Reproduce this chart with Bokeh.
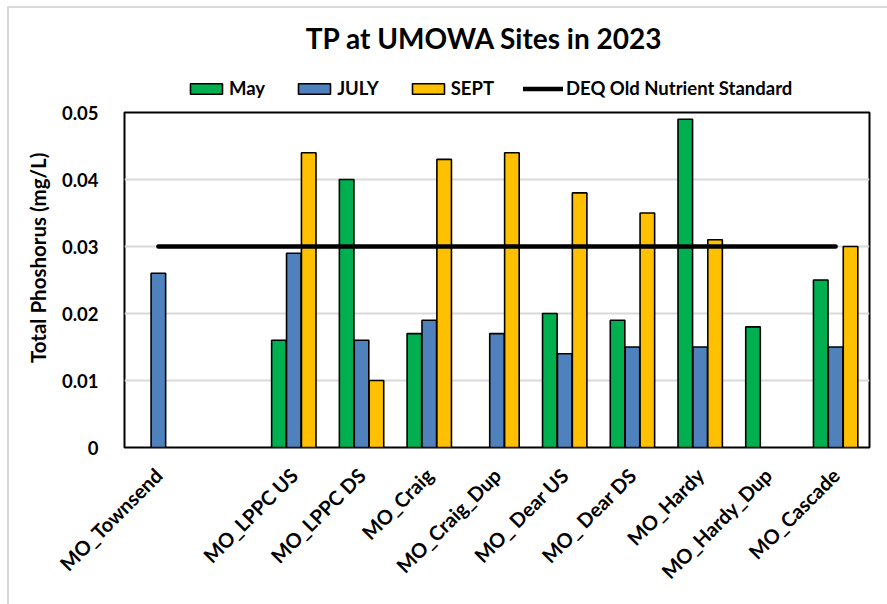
import numpy as np
from bokeh.plotting import figure
from bokeh.layouts import column
from bokeh.models import (ColumnDataSource, FactorRange, Range1d, FixedTicker,
                          NumeralTickFormatter, Legend, LegendItem, Label)
from bokeh.transform import dodge
from bokeh.embed import file_html
from bokeh.resources import INLINE

# ---- data ----
sites = ["MO_Townsend", " ", "MO_LPPC US", "MO_LPPC DS", "MO_Craig", "MO_Craig_Dup",
         "MO_ Dear US", "MO_ Dear DS", "MO_Hardy", "MO_Hardy_Dup", "MO_Cascade"]
may = [np.nan, np.nan, 0.016, 0.040, 0.017, np.nan, 0.020, 0.019, 0.049, 0.018, 0.025]
july = [0.026, np.nan, 0.029, 0.016, 0.019, 0.017, 0.014, 0.015, 0.015, np.nan, 0.015]
sept = [np.nan, np.nan, 0.044, 0.010, 0.043, 0.044, 0.038, 0.035, 0.031, np.nan, 0.030]
standard = [0.03] * len(sites)
y_ticks = [0, 0.01, 0.02, 0.03, 0.04, 0.05]

title_text = "TP at UMOWA Sites in 2023"
y_label = "Total Phoshorus (mg/L)"
line_name = "DEQ Old Nutrient Standard"
series_names = ["May", "JULY", "SEPT"]
series_cols = ["may", "july", "sept"]
series_colors = ["#00B050", "#4F81BD", "#FFC000"]

src = ColumnDataSource(dict(site=sites, may=np.array(may), july=np.array(july),
                            sept=np.array(sept), std=standard))

FONT = "Lato"
W = 878
TOP_H = 92
MAIN_H = 504

# ---- header figure: title + legend (its frame is aligned with the main frame) ----
top = figure(width=W, height=TOP_H, x_range=Range1d(0, 1), y_range=Range1d(0, 1),
             x_axis_type=None, y_axis_type=None, output_backend="svg",
             toolbar_location=None, min_border=0)
top.outline_line_color = None
top.add_layout(Label(x=360, y=63, x_units="screen", y_units="screen", text=title_text,
                     text_align="center", text_baseline="middle", text_font=FONT,
                     text_font_size="28px", text_font_style="bold", text_color="#000000"))

# legend-only renderers (no visible marks)
dummy = ColumnDataSource(dict(x=[np.nan], y=[np.nan]))
legend_renderers = []
for color in series_colors:
    legend_renderers.append(top.vbar(x="x", top="y", width=0.1, source=dummy,
                                     fill_color=color, line_color="black", line_width=1.6))
legend_renderers.append(top.line(x="x", y="y", source=dummy, line_color="black",
                                 line_width=4.5, line_cap="round"))
legend = Legend(items=[LegendItem(label=n, renderers=[r])
                       for n, r in zip(series_names + [line_name], legend_renderers)],
                orientation="horizontal", location=(62, 1))
legend.label_text_font = FONT
legend.label_text_font_size = "18.5px"
legend.label_text_font_style = "bold"
legend.label_text_color = "#000000"
legend.glyph_width = 40
legend.glyph_height = 13
legend.spacing = 29
legend.label_standoff = 3
legend.padding = 2
legend.margin = 0
legend.border_line_color = None
legend.background_fill_alpha = 0
top.add_layout(legend, "center")

# ---- main chart ----
p = figure(width=W, height=MAIN_H, x_range=FactorRange(*sites), y_range=Range1d(0, 0.05),
           output_backend="svg", toolbar_location=None,
           min_border_left=115, min_border_right=18, min_border_top=12, min_border_bottom=157)

offsets = [-0.22, 0.0, 0.22]
for col, off, color in zip(series_cols, offsets, series_colors):
    p.vbar(x=dodge("site", off, range=p.x_range), top=col, width=0.215, source=src,
           fill_color=color, line_color="black", line_width=1.6)

p.line(x="site", y="std", source=src, line_color="black", line_width=4.5, line_cap="round")

p.yaxis.ticker = FixedTicker(ticks=y_ticks)
p.yaxis.formatter = NumeralTickFormatter(format="0.[00]")
p.yaxis.axis_label = "\u00a0" * 9 + y_label
p.yaxis.axis_label_text_font = FONT
p.yaxis.axis_label_text_font_size = "20.5px"
p.yaxis.axis_label_text_font_style = "bold"
p.yaxis.axis_label_standoff = 9
p.yaxis.major_label_text_font = FONT
p.yaxis.major_label_text_font_size = "18.5px"
p.yaxis.major_label_text_font_style = "bold"
p.yaxis.major_label_standoff = 20

p.xaxis.major_label_orientation = np.pi / 4
p.xaxis.major_label_text_font = FONT
p.xaxis.major_label_text_font_size = "20px"
p.xaxis.major_label_text_font_style = "bold"
p.xaxis.major_label_standoff = 18

for ax in (p.xaxis, p.yaxis):
    ax.axis_line_color = None
    ax.major_tick_line_color = None
    ax.minor_tick_line_color = None
    ax.major_label_text_color = "#000000"
    ax.axis_label_text_color = "#000000"

p.xgrid.grid_line_color = None
p.ygrid.grid_line_color = "#D9D9D9"
p.ygrid.grid_line_width = 2

p.outline_line_color = "black"
p.outline_line_width = 2

layout = column(top, p, spacing=0)
layout.styles = {"margin": "6px 0 0 7px",
                 "border-top": "2px solid #D9D9D9", "border-left": "2px solid #D9D9D9"}

open("out.html", "w").write(file_html(layout, INLINE))
